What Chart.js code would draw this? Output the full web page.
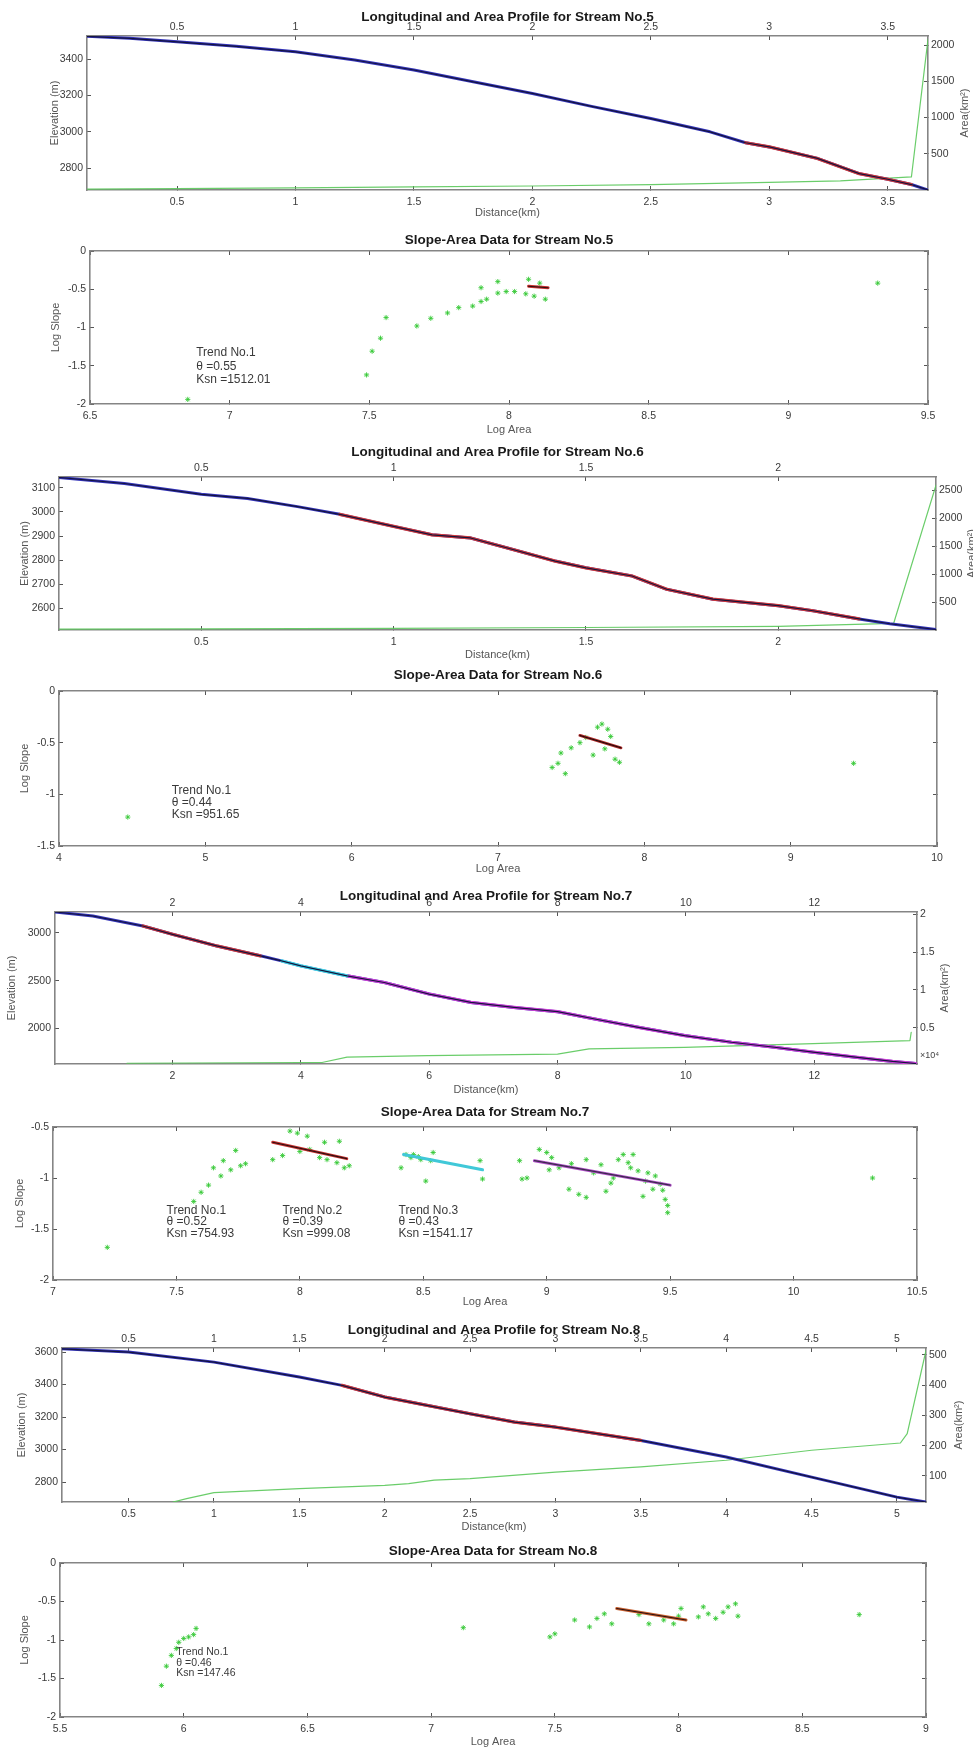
<!DOCTYPE html>
<html>
<head>
<meta charset="utf-8">
<title>Longitudinal and Slope-Area profiles</title>
<script src="https://cdn.jsdelivr.net/npm/chart.js@4.4.1/dist/chart.umd.min.js"></script>
<style>
  html, body { margin: 0; padding: 0; background: #fff; }
  #wrap { position: relative; width: 973px; height: 1749px; overflow: hidden; background: #fff; }
  #wrap canvas { position: absolute; left: 0; }
</style>
</head>
<body>
<div id="wrap"></div>
<script>
// ---------- Stream No.5 ----------
const s5Dist = [0.12, 0.3, 0.5, 0.75, 1.0, 1.25, 1.5, 1.75, 2.0, 2.25, 2.5, 2.75, 2.9, 3.0, 3.2, 3.38, 3.5, 3.6, 3.67];
const s5Elev = [3525, 3514, 3495, 3470, 3440, 3395, 3340, 3275, 3211, 3140, 3073, 3000, 2940, 2917, 2855, 2770, 2739, 2710, 2680];
const s5RedKm = [2.9, 3.6];
const s5AreaDist = [0.12, 0.5, 1.0, 1.5, 2.0, 2.5, 3.0, 3.3, 3.6, 3.67];
const s5Area = [12, 20, 30, 42, 55, 75, 105, 125, 180, 2080];
const s5KmTicks = [0.5, 1, 1.5, 2, 2.5, 3, 3.5];
const s5ElevTicks = [2800, 3000, 3200, 3400];
const s5AreaTicks = [500, 1000, 1500, 2000];

const sa5LogA = [6.85, 7.49, 7.51, 7.54, 7.56, 7.67, 7.72, 7.78, 7.82, 7.87, 7.90, 7.92, 7.90, 7.96, 7.96, 7.99, 8.02, 8.06, 8.07, 8.09, 8.11, 8.13, 9.32];
const sa5LogS = [-1.94, -1.62, -1.31, -1.14, -0.87, -0.98, -0.88, -0.81, -0.74, -0.72, -0.66, -0.63, -0.48, -0.40, -0.55, -0.53, -0.53, -0.56, -0.37, -0.59, -0.42, -0.63, -0.42];
const sa5TrendA = [8.07, 8.14];
const sa5TrendS = [-0.46, -0.48];
const sa5ATicks = [6.5, 7, 7.5, 8, 8.5, 9, 9.5];
const sa5STicks = [-2, -1.5, -1, -0.5, 0];

// ---------- Stream No.6 ----------
const s6Dist = [0.13, 0.30, 0.50, 0.62, 0.75, 0.86, 1.0, 1.1, 1.2, 1.31, 1.42, 1.5, 1.62, 1.71, 1.83, 2.0, 2.09, 2.21, 2.29, 2.41];
const s6Elev = [3143, 3118, 3073, 3056, 3022, 2990, 2940, 2905, 2892, 2844, 2796, 2768, 2734, 2679, 2638, 2611, 2590, 2556, 2536, 2512];
const s6RedKm = [0.86, 2.21];
const s6AreaDist = [0.13, 0.5, 1.0, 1.5, 2.0, 2.30, 2.41];
const s6Area = [15, 20, 30, 45, 65, 120, 2590];
const s6KmTicks = [0.5, 1, 1.5, 2];
const s6ElevTicks = [2600, 2700, 2800, 2900, 3000, 3100];
const s6AreaTicks = [500, 1000, 1500, 2000, 2500];

const sa6LogA = [4.47, 7.37, 7.41, 7.46, 7.43, 7.50, 7.56, 7.60, 7.65, 7.68, 7.71, 7.75, 7.77, 7.80, 7.83, 7.73, 9.43];
const sa6LogS = [-1.22, -0.74, -0.70, -0.80, -0.60, -0.55, -0.50, -0.45, -0.62, -0.35, -0.32, -0.37, -0.44, -0.66, -0.69, -0.56, -0.70];
const sa6TrendA = [7.56, 7.84];
const sa6TrendS = [-0.43, -0.55];
const sa6ATicks = [4, 5, 6, 7, 8, 9, 10];
const sa6STicks = [-1.5, -1, -0.5, 0];

// ---------- Stream No.7 ----------
const s7Dist = [0.17, 0.76, 1.54, 2.0, 2.69, 3.37, 3.7, 4.0, 4.72, 5.30, 6.0, 6.65, 7.32, 8.0, 8.58, 9.26, 9.98, 10.71, 11.38, 11.98, 12.64, 13.22, 13.58];
const s7Elev = [3220, 3178, 3073, 2986, 2864, 2760, 2707, 2655, 2550, 2480, 2359, 2271, 2219, 2174, 2097, 2010, 1923, 1853, 1801, 1749, 1697, 1652, 1630];
const s7RedKm = [1.54, 3.37];
const s7CyanKm = [3.7, 4.72];
const s7MagentaKm = [4.72, 13.58];
const s7AreaDist = [1.29, 4.0, 4.33, 4.72, 5.97, 8.0, 8.49, 9.98, 11.98, 13.49, 13.51];
const s7Area = [0.03, 0.04, 0.04, 0.11, 0.13, 0.15, 0.22, 0.24, 0.29, 0.33, 0.44];
const s7KmTicks = [2, 4, 6, 8, 10, 12];
const s7ElevTicks = [2000, 2500, 3000];
const s7AreaTicks = [0.5, 1, 1.5, 2];

const sa7LogA = [7.22, 7.57, 7.60, 7.63, 7.65, 7.68, 7.69, 7.72, 7.74, 7.76, 7.78, 7.89, 7.93, 7.96, 7.99, 8.03, 8.00, 8.04, 8.08, 8.10, 8.11, 8.15, 8.16, 8.18, 8.20,
  8.41, 8.43, 8.45, 8.46, 8.48, 8.49, 8.51, 8.54, 8.53, 8.73, 8.74,
  8.89, 8.90, 8.92, 8.97, 9.00, 9.01, 9.02, 9.05, 9.09, 9.10, 9.13, 9.16, 9.16, 9.19, 9.22, 9.24, 9.26, 9.27, 9.29, 9.31, 9.33, 9.34, 9.35, 9.37, 9.39, 9.40, 9.41, 9.43, 9.44, 9.46, 9.47, 9.48, 9.49, 9.49, 10.32];
const sa7LogS = [-1.68, -1.23, -1.14, -1.07, -0.90, -0.98, -0.83, -0.92, -0.73, -0.88, -0.86, -0.82, -0.78, -0.54, -0.56, -0.59, -0.74, -0.72, -0.80, -0.65, -0.82, -0.85, -0.64, -0.90, -0.88,
  -0.90, -0.77, -0.80, -0.77, -0.79, -0.82, -1.03, -0.75, -0.83, -0.83, -1.01,
  -0.83, -1.01, -1.00, -0.72, -0.75, -0.92, -0.80, -0.90, -1.11, -0.86, -1.16, -1.19, -0.82, -0.95, -0.87, -1.13, -1.05, -1.00, -0.82, -0.77, -0.85, -0.90, -0.77, -0.93, -1.18, -1.03, -0.95, -1.11, -0.98, -1.06, -1.12, -1.21, -1.34, -1.27, -1.00];
const sa7Trend1A = [7.89, 8.19], sa7Trend1S = [-0.65, -0.81];
const sa7Trend2A = [8.42, 8.74], sa7Trend2S = [-0.77, -0.92];
const sa7Trend3A = [8.95, 9.50], sa7Trend3S = [-0.83, -1.07];
const sa7ATicks = [7, 7.5, 8, 8.5, 9, 9.5, 10, 10.5];
const sa7STicks = [-2, -1.5, -1, -0.5];

// ---------- Stream No.8 ----------
const s8Dist = [0.11, 0.5, 1.0, 1.5, 1.75, 2.0, 2.5, 2.76, 3.0, 3.5, 4.0, 4.5, 5.0, 5.17];
const s8Elev = [3620, 3600, 3538, 3446, 3395, 3323, 3220, 3169, 3138, 3056, 2954, 2830, 2707, 2677];
const s8RedKm = [1.75, 3.5];
const s8AreaDist = [0.76, 0.84, 1.0, 1.5, 2.0, 2.14, 2.29, 2.5, 3.0, 3.5, 4.0, 4.5, 5.02, 5.06, 5.17];
const s8Area = [14, 25, 45, 58, 69, 75, 86, 91, 113, 130, 152, 185, 209, 240, 515];
const s8KmTicks = [0.5, 1, 1.5, 2, 2.5, 3, 3.5, 4, 4.5, 5];
const s8ElevTicks = [2800, 3000, 3200, 3400, 3600];
const s8AreaTicks = [100, 200, 300, 400, 500];

const sa8LogA = [5.91, 5.93, 5.95, 5.97, 5.98, 6.00, 6.02, 6.04, 6.05, 7.13, 7.48, 7.50, 7.58, 7.64, 7.67, 7.70, 7.73, 7.84, 7.88, 7.94, 8.00, 7.98, 8.01, 8.08, 8.10, 8.12, 8.15, 8.18, 8.20, 8.23, 8.24, 8.73];
const sa8LogS = [-1.59, -1.34, -1.20, -1.11, -1.03, -0.98, -0.96, -0.93, -0.85, -0.84, -0.96, -0.92, -0.74, -0.83, -0.72, -0.66, -0.79, -0.67, -0.79, -0.74, -0.69, -0.79, -0.59, -0.70, -0.57, -0.66, -0.72, -0.64, -0.57, -0.53, -0.69, -0.67];
const sa8TrendA = [7.75, 8.03];
const sa8TrendS = [-0.59, -0.74];
const sa8ATicks = [5.5, 6, 6.5, 7, 7.5, 8, 8.5, 9];
const sa8STicks = [-2, -1.5, -1, -0.5, 0];

// ---------- drawing ----------
const W = 973;
const FONT = "'Liberation Sans', Arial, sans-serif";
const wrap = document.getElementById('wrap');

const pts = (xs, ys) => xs.map((x, i) => ({ x: x, y: ys[i] }));
const within = (xs, ys, r) => pts(xs, ys).filter(p => p.x >= r[0] - 1e-9 && p.x <= r[1] + 1e-9);

function lineSet(data, color, width, order, yAxisID) {
  return { data: data, showLine: true, borderColor: color, borderWidth: width, pointRadius: 0,
    fill: false, order: order, yAxisID: yAxisID || 'y', borderJoinStyle: 'round', borderCapStyle: 'round' };
}

function starSet(data) {
  return { data: data, showLine: false, pointStyle: 'star', pointRadius: 2.6, pointBorderWidth: 1,
    pointBorderColor: 'rgba(50,200,50,0.85)', pointBackgroundColor: 'rgba(50,200,50,0.85)', order: 3 };
}

function scale(o) {
  return {
    type: 'linear', axis: o.axis, position: o.pos, min: o.min, max: o.max,
    afterBuildTicks: s => { s.ticks = o.ticks.map(v => ({ value: v })); },
    afterFit: s => { if (o.axis === 'x') s.height = o.size; else s.width = o.size; },
    grid: { drawOnChartArea: false, drawTicks: true, tickLength: -4, color: '#555', lineWidth: 1 },
    border: { display: true, color: '#858585', width: 1.6 },
    ticks: { display: o.labels, autoSkip: false, maxRotation: 0, minRotation: 0, padding: o.pad,
      color: '#3a3a3a', font: { family: FONT, size: 10.5 }, callback: v => String(v) },
    title: o.title ? { display: true, text: o.title, color: o.tColor || '#555', font: o.tFont || { family: FONT, size: 11 }, padding: o.tPad }
                   : { display: false }
  };
}

const notesPlugin = {
  id: 'notes',
  afterDraw(chart, args, o) {
    const ctx = chart.ctx;
    ctx.save();
    (o.items || []).forEach(n => {
      ctx.font = (n.size || 12) + 'px ' + FONT;
      ctx.fillStyle = '#3a3a3a';
      ctx.textAlign = 'left';
      ctx.textBaseline = 'middle';
      const x0 = chart.scales.x.getPixelForValue(n.x);
      const y0 = chart.scales.y.getPixelForValue(n.y);
      n.lines.forEach((t, i) => ctx.fillText(t, x0, y0 + i * n.gap));
    });
    if (o.rightTitle) {
      const s = chart.scales.y2;
      ctx.save();
      ctx.translate(o.rightTitle.x, (s.top + s.bottom) / 2);
      ctx.rotate(-Math.PI / 2);
      ctx.font = '11px ' + FONT;
      ctx.fillStyle = '#555';
      ctx.textAlign = 'center';
      ctx.textBaseline = 'middle';
      ctx.fillText(o.rightTitle.text, 0, 0);
      ctx.restore();
    }
    if (o.exponent) {
      const s = chart.scales.y2;
      ctx.font = '9px ' + FONT;
      ctx.fillStyle = '#444';
      ctx.textAlign = 'left';
      ctx.textBaseline = 'middle';
      ctx.fillText(o.exponent, s.left + 3, s.bottom - 8);
    }
    ctx.restore();
  }
};

function makeChart(g, datasets, sc, notes) {
  const cv = document.createElement('canvas');
  cv.width = W; cv.height = g.h;
  cv.style.top = g.top + 'px';
  wrap.appendChild(cv);
  const titleFont = { family: FONT, size: 13.5, weight: 'bold' };
  const scales = {
    x: scale({ axis: 'x', pos: 'bottom', min: sc.xMin, max: sc.xMax, ticks: sc.xTicks, labels: true, pad: 10,
      size: g.h - (g.b - g.top), title: sc.xTitle, tPad: { top: 0, bottom: g.h - (g.xlabY - g.top) - 6.6 } }),
    x2: scale({ axis: 'x', pos: 'top', min: sc.xMin, max: sc.xMax, ticks: sc.xTicks, labels: !!sc.topLabels, pad: 7,
      size: g.t - g.top, title: sc.title, tColor: '#1a1a1a', tFont: titleFont, tPad: { top: (g.titleY - g.top) - 8.1, bottom: 0 } }),
    y: scale({ axis: 'y', pos: 'left', min: sc.yMin, max: sc.yMax, ticks: sc.yTicks, labels: true, pad: 8,
      size: g.l, title: sc.yTitle, tPad: { top: g.ylabX - 6.6, bottom: 0 } }),
    y2: scale({ axis: 'y', pos: 'right', min: sc.y2Min, max: sc.y2Max, ticks: sc.y2Ticks, labels: !!sc.rightLabels, pad: 7,
      size: W - g.r })
  };
  new Chart(cv, {
    type: 'scatter',
    data: { datasets: datasets },
    options: {
      animation: false, responsive: false, devicePixelRatio: 1,
      layout: { padding: 0 },
      plugins: { legend: { display: false }, tooltip: { enabled: false }, title: { display: false }, notes: notes || {} },
      scales: scales
    },
    plugins: [notesPlugin]
  });
}

function profilePanel(g, d) {
  const base = pts(d.dist, d.elev);
  const ds = [
    lineSet(base, '#14143e', 1.2, 0),
    lineSet(base, '#3434b8', 3, 3)
  ];
  d.segments.forEach(sg => ds.push(lineSet(within(d.dist, d.elev, sg.range), sg.color, 3.2, 2)));
  ds.push(lineSet(pts(d.areaDist, d.area), 'rgba(90,200,90,0.9)', 1.2, 4, 'y2'));
  makeChart(g, ds, {
    title: d.title, xTitle: 'Distance(km)', yTitle: 'Elevation (m)', topLabels: true, rightLabels: true,
    xMin: d.xr[0], xMax: d.xr[1], xTicks: d.xTicks,
    yMin: d.yr[0], yMax: d.yr[1], yTicks: d.yTicks,
    y2Min: d.ar[0], y2Max: d.ar[1], y2Ticks: d.aTicks
  }, { rightTitle: { text: 'Area(km²)', x: g.y2labX }, exponent: d.exponent });
}

function slopePanel(g, d) {
  const ds = [starSet(pts(d.a, d.s))];
  d.trends.forEach(t => {
    ds.push(lineSet(pts(t.a, t.s), t.color, 3, 2));
    if (t.core) ds.push(lineSet(pts(t.a, t.s), t.core, 1.1, 1));
  });
  makeChart(g, ds, {
    title: d.title, xTitle: 'Log Area', yTitle: 'Log Slope',
    xMin: d.xr[0], xMax: d.xr[1], xTicks: d.xTicks,
    yMin: d.yr[0], yMax: d.yr[1], yTicks: d.yTicks,
    y2Min: d.yr[0], y2Max: d.yr[1], y2Ticks: d.yTicks
  }, { items: d.notes });
}

profilePanel({ top: 0, h: 222, l: 87, r: 928, t: 36, b: 190, titleY: 17, xlabY: 213, ylabX: 55, y2labX: 965 }, {
  title: 'Longitudinal and Area Profile for Stream No.5',
  dist: s5Dist, elev: s5Elev, areaDist: s5AreaDist, area: s5Area,
  segments: [{ range: s5RedKm, color: '#d23a3a' }],
  xr: [0.12, 3.67], xTicks: s5KmTicks, yr: [2680, 3527], yTicks: s5ElevTicks, ar: [0, 2125], aTicks: s5AreaTicks
});

slopePanel({ top: 218, h: 222, l: 90, r: 928, t: 251, b: 404, titleY: 240, xlabY: 430, ylabX: 56 }, {
  title: 'Slope-Area Data for Stream No.5', a: sa5LogA, s: sa5LogS,
  trends: [{ a: sa5TrendA, s: sa5TrendS, color: '#c83030', core: '#2a1010' }],
  xr: [6.5, 9.5], xTicks: sa5ATicks, yr: [-2, 0], yTicks: sa5STicks,
  notes: [{ x: 6.88, y: -1.33, gap: 13.5, lines: ['Trend No.1', 'θ =0.55', 'Ksn =1512.01'] }]
});

profilePanel({ top: 436, h: 224, l: 59, r: 936, t: 477, b: 630, titleY: 452, xlabY: 655, ylabX: 25, y2labX: 972 }, {
  title: 'Longitudinal and Area Profile for Stream No.6',
  dist: s6Dist, elev: s6Elev, areaDist: s6AreaDist, area: s6Area,
  segments: [{ range: s6RedKm, color: '#d23a3a' }],
  xr: [0.13, 2.41], xTicks: s6KmTicks, yr: [2510, 3145], yTicks: s6ElevTicks, ar: [0, 2735], aTicks: s6AreaTicks
});

slopePanel({ top: 658, h: 223, l: 59, r: 937, t: 691, b: 846, titleY: 675, xlabY: 869, ylabX: 25 }, {
  title: 'Slope-Area Data for Stream No.6', a: sa6LogA, s: sa6LogS,
  trends: [{ a: sa6TrendA, s: sa6TrendS, color: '#b02828', core: '#1a0a0a' }],
  xr: [4, 10], xTicks: sa6ATicks, yr: [-1.5, 0], yTicks: sa6STicks,
  notes: [{ x: 4.77, y: -0.96, gap: 12, lines: ['Trend No.1', 'θ =0.44', 'Ksn =951.65'] }]
});

profilePanel({ top: 881, h: 218, l: 55, r: 917, t: 912, b: 1064, titleY: 896, xlabY: 1090, ylabX: 12, y2labX: 945 }, {
  title: 'Longitudinal and Area Profile for Stream No.7',
  dist: s7Dist, elev: s7Elev, areaDist: s7AreaDist, area: s7Area,
  segments: [{ range: s7RedKm, color: '#d23a3a' }, { range: s7CyanKm, color: '#40d8e8' }, { range: s7MagentaKm, color: '#d040d8' }],
  xr: [0.17, 13.6], xTicks: s7KmTicks, yr: [1625, 3220], yTicks: s7ElevTicks, ar: [0.02, 2.03], aTicks: s7AreaTicks,
  exponent: '×10⁴'
});

slopePanel({ top: 1099, h: 218, l: 53, r: 917, t: 1127, b: 1280, titleY: 1112, xlabY: 1302, ylabX: 20 }, {
  title: 'Slope-Area Data for Stream No.7', a: sa7LogA, s: sa7LogS,
  trends: [
    { a: sa7Trend1A, s: sa7Trend1S, color: '#c83030', core: '#2a1010' },
    { a: sa7Trend2A, s: sa7Trend2S, color: '#40c8d8' },
    { a: sa7Trend3A, s: sa7Trend3S, color: '#b050c8', core: '#3a2a4a' }
  ],
  xr: [7, 10.5], xTicks: sa7ATicks, yr: [-2, -0.5], yTicks: sa7STicks,
  notes: [
    { x: 7.46, y: -1.32, gap: 11.5, lines: ['Trend No.1', 'θ =0.52', 'Ksn =754.93'] },
    { x: 7.93, y: -1.32, gap: 11.5, lines: ['Trend No.2', 'θ =0.39', 'Ksn =999.08'] },
    { x: 8.40, y: -1.32, gap: 11.5, lines: ['Trend No.3', 'θ =0.43', 'Ksn =1541.17'] }
  ]
});

profilePanel({ top: 1317, h: 220, l: 62, r: 926, t: 1348, b: 1502, titleY: 1330, xlabY: 1527, ylabX: 22, y2labX: 959 }, {
  title: 'Longitudinal and Area Profile for Stream No.8',
  dist: s8Dist, elev: s8Elev, areaDist: s8AreaDist, area: s8Area,
  segments: [{ range: s8RedKm, color: '#d23a3a' }],
  xr: [0.11, 5.17], xTicks: s8KmTicks, yr: [2677, 3625], yTicks: s8ElevTicks, ar: [14, 523], aTicks: s8AreaTicks
});

slopePanel({ top: 1529, h: 220, l: 60, r: 926, t: 1563, b: 1717, titleY: 1551, xlabY: 1742, ylabX: 25 }, {
  title: 'Slope-Area Data for Stream No.8', a: sa8LogA, s: sa8LogS,
  trends: [{ a: sa8TrendA, s: sa8TrendS, color: '#c86030', core: '#2a1010' }],
  xr: [5.5, 9], xTicks: sa8ATicks, yr: [-2, 0], yTicks: sa8STicks,
  notes: [{ x: 5.97, y: -1.16, gap: 10.5, size: 10.5, lines: ['Trend No.1', 'θ =0.46', 'Ksn =147.46'] }]
});
</script>
</body>
</html>
